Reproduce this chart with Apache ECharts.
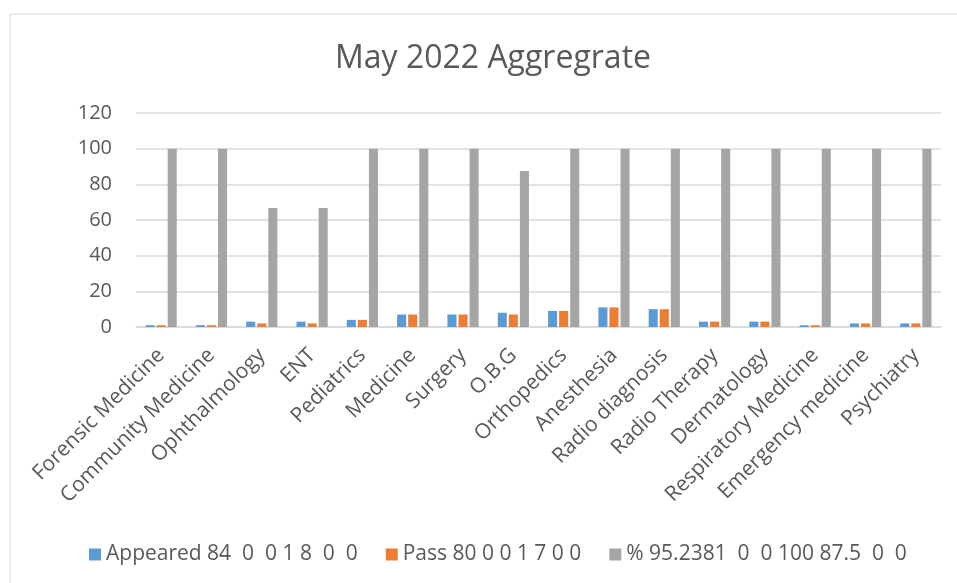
<!DOCTYPE html>
<html>
<head>
<meta charset="utf-8">
<script src="https://cdn.jsdelivr.net/npm/echarts@6/dist/echarts.min.js"></script>
<style>
  html, body { margin: 0; padding: 0; background: #fff; }
  #chart { width: 957px; height: 583px; }
</style>
</head>
<body>
<div id="chart"></div>
<script>
// data
var departments = ['Forensic Medicine', 'Community Medicine', 'Ophthalmology', 'ENT', 'Pediatrics',
  'Medicine', 'Surgery', 'O.B.G', 'Orthopedics', 'Anesthesia', 'Radio diagnosis', 'Radio Therapy',
  'Dermatology', 'Respiratory Medicine', 'Emergency medicine', 'Psychiatry'];
var appeared = [1, 1, 3, 3, 4, 7, 7, 8, 9, 11, 10, 3, 3, 1, 2, 2];
var pass = [1, 1, 2, 2, 4, 7, 7, 7, 9, 11, 10, 3, 3, 1, 2, 2];
var percent = [100, 100, 66.67, 66.67, 100, 100, 100, 87.5, 100, 100, 100, 100, 100, 100, 100, 100];
var seriesNames = ['Appeared 84  0  0 1 8  0  0', 'Pass 80 0 0 1 7 0 0', '% 95.2381  0  0 100 87.5  0  0'];
var yTicks = { min: 0, max: 120, step: 20 };

var font = 'Open Sans';
var textColor = '#595959';

var chart = echarts.init(document.getElementById('chart'));
chart.setOption({
  animation: false,
  color: ['#5B9BD5', '#ED7D31', '#A5A5A5'],
  textStyle: { fontFamily: font },
  graphic: [{
    type: 'rect',
    shape: { x: 10, y: 14, width: 960, height: 600 },
    style: { fill: 'none', stroke: '#d9d9d9', lineWidth: 1 }
  }],
  title: {
    text: 'May 2022 Aggregrate',
    left: 488,
    textAlign: 'center',
    top: 38,
    textStyle: { fontFamily: font, fontSize: 32, fontWeight: 'normal', color: textColor }
  },
  legend: {
    top: 539,
    left: 84,
    itemWidth: 12,
    itemHeight: 12,
    itemGap: 28,
    icon: 'rect',
    textStyle: { fontFamily: font, fontSize: 21, color: textColor }
  },
  grid: { left: 136, right: 16, top: 113, bottom: 256 },
  xAxis: {
    type: 'category',
    data: departments,
    axisLine: { lineStyle: { color: '#d9d9d9', width: 1.5 } },
    axisTick: { show: false },
    axisLabel: { rotate: 45, interval: 0, fontSize: 21, color: textColor, margin: 25 }
  },
  yAxis: {
    type: 'value',
    min: yTicks.min,
    max: yTicks.max,
    interval: yTicks.step,
    axisLine: { show: false },
    axisTick: { show: false },
    axisLabel: { fontSize: 20, color: textColor, margin: 24 },
    splitLine: { lineStyle: { color: '#d9d9d9', width: 1.5 } }
  },
  series: [
    { name: seriesNames[0], type: 'bar', data: appeared, barGap: '22%', barCategoryGap: '38%' },
    { name: seriesNames[1], type: 'bar', data: pass, barGap: '22%', barCategoryGap: '38%' },
    { name: seriesNames[2], type: 'bar', data: percent, barGap: '22%', barCategoryGap: '38%' }
  ]
});
</script>
</body>
</html>
